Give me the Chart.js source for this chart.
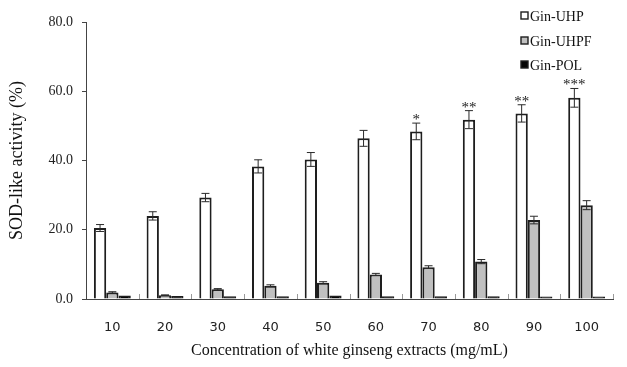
<!DOCTYPE html>
<html><head><meta charset="utf-8">
<script src="https://cdn.jsdelivr.net/npm/chart.js@4.4.1/dist/chart.umd.min.js"></script>
<style>html,body{margin:0;padding:0;background:#fff}#wrap{width:627px;height:367px}</style>
</head><body><div id="wrap"><canvas id="c" width="627" height="367"></canvas></div>
<script>
// SOD-like activity of white ginseng extracts by concentration
const concentrations = ['10','20','30','40','50','60','70','80','90','100'];
const seriesNames = ['Gin-UHP','Gin-UHPF','Gin-POL'];
const uhp     = [20.5, 24.0, 29.3, 38.3, 40.3, 46.4, 48.4, 51.8, 53.6, 58.1];
const uhpErr  = [1.0, 1.2, 1.2, 1.9, 2.0, 2.3, 2.4, 2.6, 2.5, 2.7];
const uhpf    = [1.9, 1.1, 2.8, 3.8, 4.7, 7.1, 9.2, 10.8, 22.8, 27.1];
const uhpfErr = [0.2, 0.1, 0.2, 0.3, 0.3, 0.3, 0.4, 0.6, 1.1, 1.3];
const pol     = [1.0, 0.9, 0.8, 0.8, 1.0, 0.8, 0.8, 0.8, 0.7, 0.7];
const polErr  = [0, 0, 0, 0, 0, 0, 0, 0, 0, 0];
const uhpSig  = ['', '', '', '', '', '', '*', '**', '**', '***'];
const yTicks  = [0, 20, 40, 60, 80];

const SERIF = '"Liberation Serif", "Times New Roman", serif';
const SANS = '"DejaVu Sans", "Noto Sans", sans-serif';
const EDGE = '#1e1e1e';

const errors = [uhpErr, uhpfErr, polErr];
const marks = [uhpSig, null, null];

// whiskers and significance marks on top of each bar
const errorBarPlugin = {
  id: 'errorBars',
  afterDatasetsDraw(chart) {
    const ctx = chart.ctx, y = chart.scales.y;
    ctx.save();
    chart.data.datasets.forEach((ds, i) => {
      const meta = chart.getDatasetMeta(i);
      meta.data.forEach((bar, j) => {
        const err = errors[i][j];
        const v = ds.data[j];
        const yHi = y.getPixelForValue(v + err);
        if (err > 0) {
          const yLo = y.getPixelForValue(v - err);
          ctx.strokeStyle = '#2a2a2a';
          ctx.lineWidth = 1;
          ctx.beginPath();
          ctx.moveTo(bar.x, yHi); ctx.lineTo(bar.x, yLo);
          ctx.moveTo(bar.x - 4, yHi); ctx.lineTo(bar.x + 4, yHi);
          ctx.moveTo(bar.x - 4, yLo); ctx.lineTo(bar.x + 4, yLo);
          ctx.stroke();
        }
        const m = marks[i] && marks[i][j];
        if (m) {
          ctx.fillStyle = '#222';
          ctx.font = '15px ' + SERIF;
          ctx.textAlign = 'center';
          ctx.textBaseline = 'alphabetic';
          ctx.fillText(m, bar.x, yHi + 1);
        }
      });
    });
    ctx.restore();
  }
};

// short inward ticks between categories on the x axis
const innerTickPlugin = {
  id: 'innerTicks',
  afterDraw(chart) {
    const ctx = chart.ctx, x = chart.scales.x, area = chart.chartArea;
    const n = concentrations.length;
    const step = x.getPixelForValue(1) - x.getPixelForValue(0);
    ctx.save();
    ctx.strokeStyle = '#9a9a9a';
    ctx.lineWidth = 1;
    ctx.beginPath();
    for (let k = 0; k < n; k++) {
      const px = Math.round(x.getPixelForValue(k) + step / 2) + 0.5;
      ctx.moveTo(px, area.bottom); ctx.lineTo(px, area.bottom - 5);
    }
    ctx.stroke();
    ctx.restore();
  }
};

// vertical legend in the upper right corner
const legendPlugin = {
  id: 'cornerLegend',
  afterDraw(chart) {
    const ctx = chart.ctx;
    const rows = [16, 41, 65];
    ctx.save();
    ctx.font = '14px ' + SERIF;
    ctx.textBaseline = 'middle';
    ctx.textAlign = 'left';
    chart.data.datasets.forEach((ds, i) => {
      const cy = rows[i];
      ctx.fillStyle = ds.backgroundColor;
      ctx.fillRect(521, cy - 4, 7, 7);
      ctx.strokeStyle = EDGE;
      ctx.lineWidth = 1.4;
      ctx.strokeRect(521, cy - 4, 7, 7);
      ctx.fillStyle = '#111';
      ctx.fillText(ds.label, 530, cy + 1);
    });
    ctx.restore();
  }
};

new Chart(document.getElementById('c'), {
  type: 'bar',
  data: {
    labels: concentrations,
    datasets: [
      { label: seriesNames[0], data: uhp,  backgroundColor: '#ffffff', borderColor: EDGE, borderWidth: 2 },
      { label: seriesNames[1], data: uhpf, backgroundColor: '#c0c0c0', borderColor: EDGE, borderWidth: 2 },
      { label: seriesNames[2], data: pol,  backgroundColor: '#050505', borderColor: EDGE, borderWidth: 2 }
    ]
  },
  options: {
    responsive: false,
    animation: false,
    devicePixelRatio: 1,
    categoryPercentage: 0.7,
    barPercentage: 1.0,
    layout: { padding: { left: 0, right: 14, top: 22, bottom: 0 } },
    plugins: { legend: { display: false }, tooltip: { enabled: false } },
    scales: {
      x: {
        grid: { display: false, drawTicks: false },
        border: { display: true, color: '#444', width: 1 },
        ticks: { color: '#222', font: { family: SANS, size: 13 }, padding: 21 },
        title: { display: true, text: 'Concentration of white ginseng extracts (mg/mL)', color: '#111',
                 font: { family: SERIF, size: 16 }, padding: { top: 8, bottom: 7 } },
        afterFit(s) { s.height = 68; }
      },
      y: {
        min: 0, max: 80,
        afterBuildTicks(s) { s.ticks = yTicks.map(v => ({ value: v })); },
        grid: { drawOnChartArea: false, drawTicks: true, tickLength: 4, color: '#444' },
        border: { display: true, color: '#444', width: 1 },
        ticks: { color: '#222', font: { family: SERIF, size: 14 }, padding: 9,
                 callback: v => Number(v).toFixed(1) },
        title: { display: true, text: 'SOD-like activity (%)', color: '#111',
                 font: { family: SERIF, size: 18 }, padding: { top: 6, bottom: 4 } },
        afterFit(s) { s.width = 86; }
      }
    }
  },
  plugins: [errorBarPlugin, innerTickPlugin, legendPlugin]
});
</script>
</body></html>
